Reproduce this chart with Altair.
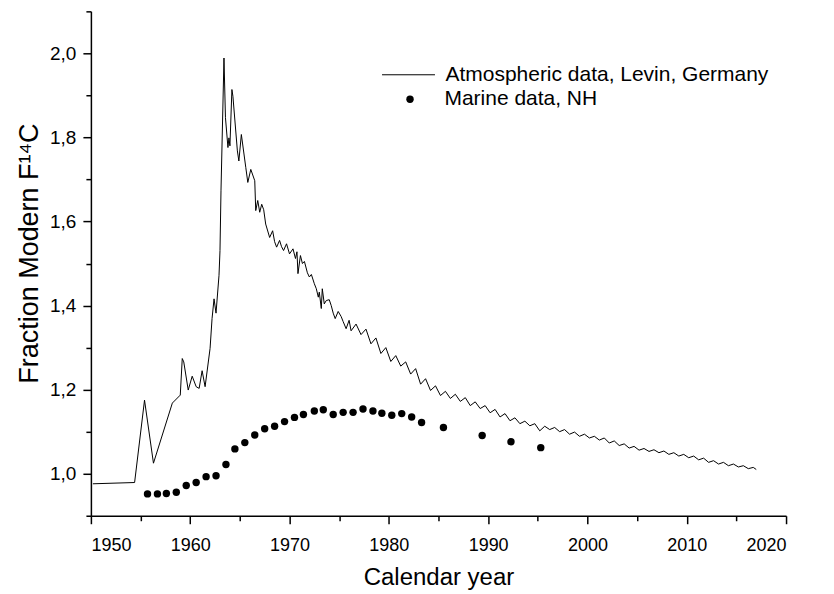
import altair as alt
import pandas as pd

# Atmospheric data (Levin, Germany)
atm_year = [1950.2, 1954.4, 1955.4, 1956.3, 1958.2, 1959.0, 1959.2, 1959.35, 1959.8, 1960.2,
            1960.6, 1960.9, 1961.2, 1961.5, 1962.0, 1962.2, 1962.4, 1962.6, 1962.9, 1963.0,
            1963.1, 1963.4, 1963.55, 1963.8, 1963.9, 1964.0, 1964.2, 1964.3, 1964.75, 1964.9,
            1965.15, 1965.6, 1965.8, 1966.1, 1966.5, 1966.6, 1966.8, 1967.0, 1967.2, 1967.4,
            1967.6, 1968.0, 1968.3, 1968.5, 1968.7, 1969.0, 1969.2, 1969.4, 1969.7, 1970.0,
            1970.35, 1970.6, 1970.75, 1970.85, 1971.1, 1971.3, 1971.5, 1971.8, 1972.0, 1972.2,
            1972.5, 1972.7, 1972.9, 1973.0, 1973.2, 1973.3, 1973.5, 1973.7, 1974.0, 1974.2,
            1974.4, 1974.6, 1974.9, 1975.2, 1975.4, 1975.7, 1976.0,
            1976.2, 1976.7, 1977.2, 1977.7, 1978.2, 1978.7, 1979.2, 1979.7, 1980.2, 1980.7,
            1981.2, 1981.7, 1982.2, 1982.7, 1983.2, 1983.7, 1984.2, 1984.7, 1985.2, 1985.7,
            1986.2, 1986.7, 1987.2, 1987.7, 1988.2, 1988.7, 1989.2, 1989.7, 1990.2, 1990.7,
            1991.2, 1991.7, 1992.2, 1992.7, 1993.2, 1993.7, 1994.2, 1994.7, 1995.2, 1995.7,
            1996.2, 1996.7, 1997.2, 1997.7, 1998.2, 1998.7, 1999.2, 1999.7, 2000.2, 2000.7,
            2001.2, 2001.7, 2002.2, 2002.7, 2003.2, 2003.7, 2004.2, 2004.7, 2005.2, 2005.7,
            2006.2, 2006.7, 2007.2, 2007.7, 2008.2, 2008.7, 2009.2, 2009.7, 2010.2, 2010.7,
            2011.2, 2011.7, 2012.2, 2012.7, 2013.2, 2013.7, 2014.2, 2014.7, 2015.2, 2015.7,
            2016.2, 2016.7, 2017.0]
atm_value = [0.976, 0.979, 1.175, 1.025, 1.168, 1.187, 1.274, 1.266, 1.199, 1.232,
             1.207, 1.203, 1.245, 1.207, 1.298, 1.369, 1.416, 1.382, 1.472, 1.531,
             1.673, 1.989, 1.847, 1.776, 1.799, 1.780, 1.914, 1.898, 1.768, 1.744,
             1.807, 1.728, 1.693, 1.724, 1.697, 1.626, 1.650, 1.622, 1.641, 1.628,
             1.594, 1.562, 1.578, 1.552, 1.539, 1.555, 1.540, 1.531, 1.547, 1.523,
             1.535, 1.512, 1.528, 1.476, 1.519, 1.500, 1.505, 1.478, 1.468, 1.474,
             1.452, 1.440, 1.420, 1.432, 1.393, 1.440, 1.404, 1.412, 1.414, 1.400,
             1.382, 1.369, 1.386, 1.374, 1.362, 1.345, 1.365,
             1.340, 1.356, 1.331, 1.344, 1.309, 1.323, 1.286, 1.300, 1.267, 1.281,
             1.256, 1.266, 1.237, 1.250, 1.213, 1.226, 1.198, 1.209, 1.186, 1.196,
             1.179, 1.189, 1.172, 1.181, 1.162, 1.171, 1.155, 1.162, 1.145, 1.153,
             1.135, 1.143, 1.126, 1.133, 1.119, 1.125, 1.114, 1.119, 1.102, 1.113,
             1.105, 1.110, 1.100, 1.105, 1.094, 1.099, 1.089, 1.094, 1.085, 1.089,
             1.080, 1.085, 1.073, 1.078, 1.067, 1.071, 1.061, 1.065, 1.056, 1.060,
             1.053, 1.057, 1.050, 1.054, 1.046, 1.050, 1.042, 1.046, 1.038, 1.042,
             1.033, 1.037, 1.027, 1.031, 1.023, 1.027, 1.019, 1.023, 1.016, 1.019,
             1.012, 1.015, 1.010]

# Marine data, NH
marine_year = [1955.7, 1956.7, 1957.6, 1958.6, 1959.6, 1960.6, 1961.6, 1962.6, 1963.6, 1964.5,
               1965.5, 1966.5, 1967.5, 1968.5, 1969.5, 1970.5, 1971.4, 1972.5, 1973.4, 1974.4,
               1975.4, 1976.4, 1977.4, 1978.4, 1979.3, 1980.3, 1981.3, 1982.3, 1983.3, 1985.5,
               1989.4, 1992.3, 1995.3]
marine_value = [0.952, 0.952, 0.953, 0.956, 0.972, 0.979, 0.993, 0.995, 1.022, 1.059,
                1.074, 1.092, 1.107, 1.113, 1.124, 1.134, 1.141, 1.149, 1.152, 1.141,
                1.146, 1.146, 1.154, 1.149, 1.144, 1.139, 1.143, 1.135, 1.122, 1.110,
                1.091, 1.076, 1.062]

x_ticks = list(range(1950, 2021, 5))
y_ticks = [0.9, 1.0, 1.1, 1.2, 1.3, 1.4, 1.5, 1.6, 1.7, 1.8, 1.9, 2.0, 2.1]

LBL_ATM = "Atmospheric data, Levin, Germany"
LBL_MAR = "Marine data, NH"

atm = pd.DataFrame({"year": atm_year, "value": atm_value, "series": LBL_ATM})
mar = pd.DataFrame({"year": marine_year, "value": marine_value, "series": LBL_MAR})

FONT = "Liberation Sans"

x_enc = alt.X(
    "year:Q",
    scale=alt.Scale(domain=[1950, 2020], nice=False, zero=False),
    axis=alt.Axis(
        title="Calendar year",
        values=x_ticks,
        labelExpr="datum.value % 10 === 0 ? datum.label : ''",
        format="d",
        tickSize={"condition": {"test": "datum.value % 10 === 0", "value": 8}, "value": 5},
        labelPadding=13,
        titlePadding=11,
        labelFontSize=18,
        titleFontSize=24,
    ),
)
y_enc = alt.Y(
    "value:Q",
    scale=alt.Scale(domain=[0.9, 2.1], nice=False, zero=False),
    axis=alt.Axis(
        title="Fraction Modern F¹⁴C",
        values=y_ticks,
        labelExpr="(round(datum.value*10) % 2 === 0 && datum.value > 0.95) ? replace(format(datum.value, '.1f'), '.', ',') : ''",
        tickSize={"condition": {"test": "round(datum.value*10) % 2 === 0 && datum.value > 0.95", "value": 8}, "value": 5},
        labelPadding=7,
        titlePadding=6,
        titleY=242,
        labelFontSize=19,
        titleFontSize=27,
    ),
)

line = alt.Chart(atm).mark_line(color="black", strokeWidth=1, clip=True).encode(
    x=x_enc,
    y=y_enc,
    color=alt.Color(
        "series:N",
        scale=alt.Scale(domain=[LBL_ATM], range=["black"]),
        legend=alt.Legend(
            title=None, orient="none", legendX=291, legendY=36.5,
            symbolType="stroke", symbolSize=2809, symbolStrokeWidth=1,
            labelFontSize=21, labelFont=FONT, labelColor="black", labelOffset=10,
            labelLimit=0, padding=0,
        ),
    ),
)

points = alt.Chart(mar).mark_point(filled=True, size=55, opacity=1, color="black").encode(
    x=alt.X("year:Q"),
    y=alt.Y("value:Q"),
    shape=alt.Shape(
        "series:N",
        scale=alt.Scale(domain=[LBL_MAR], range=["circle"]),
        legend=alt.Legend(
            title=None, orient="none", legendX=309, legendY=77.5,
            symbolSize=55, symbolFillColor="black", symbolStrokeColor="black",
            labelFontSize=21, labelFont=FONT, labelColor="black", labelOffset=24,
            labelLimit=0, padding=0,
        ),
    ),
)

chart = (
    alt.layer(line, points)
    .resolve_legend(color="independent", shape="independent")
    .properties(
        width=696,
        height=505,
        autosize=alt.AutoSizeParams(type="none"),
        padding={"left": 83, "top": 3, "right": 40, "bottom": 75},
    )
    .configure_view(stroke=None)
    .configure_axis(
        grid=False,
        domainColor="black",
        domainWidth=1.5,
        tickColor="black",
        tickWidth=1.5,
        labelColor="black",
        titleColor="black",
        labelFont=FONT,
        titleFont=FONT,
        titleFontWeight="normal",
    )
)

chart.save("out.html", embed_options={"renderer": "svg", "actions": False})
